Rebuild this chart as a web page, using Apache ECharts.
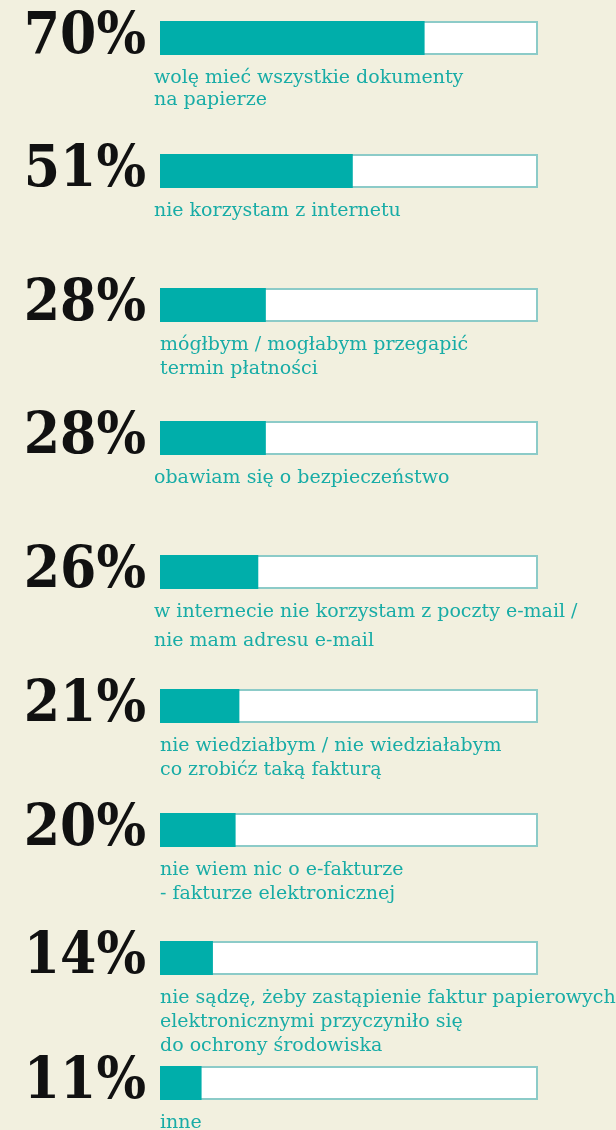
<!DOCTYPE html>
<html>
<head>
<meta charset="utf-8">
<script src="https://cdn.jsdelivr.net/npm/echarts@6/dist/echarts.min.js"></script>
<style>
html,body{margin:0;padding:0;background:#f2f0df;}
#chart{width:616px;height:1130px;}
</style>
</head>
<body>
<div id="chart"></div>
<script>
// ---- data ----
const values = [70, 51, 28, 28, 26, 21, 20, 14, 11];
const descriptions = [
  "wolę mieć wszystkie dokumenty\nna papierze",
  "nie korzystam z internetu",
  "mógłbym / mogłabym przegapić\ntermin płatności",
  "obawiam się o bezpieczeństwo",
  "w internecie nie korzystam z poczty e-mail /\nnie mam adresu e-mail",
  "nie wiedziałbym / nie wiedziałabym\nco zrobićz taką fakturą",
  "nie wiem nic o e-fakturze\n- fakturze elektronicznej",
  "nie sądzę, żeby zastąpienie faktur papierowych\nelektronicznymi przyczyniło się\ndo ochrony środowiska",
  "inne"
];

// ---- layout (not data) ----
const barTops = [21, 154, 288, 421, 555, 689, 813, 941, 1066];
const barH = 34;
const descLeft = [154, 154, 160, 154, 154, 160, 160, 160, 160];
const descLineH = [22, 24, 24, 24, 29, 24, 24, 24, 24];

const TEAL = '#00aeaa';
const BORDER = '#8ccbc8';
const DESC = '#18aca6';
const FONT = '"DejaVu Serif"';
const PCT_FONT = '"DejaVu Serif Condensed"';

const grids = [], xAxes = [], yAxes = [], series = [], titles = [];
values.forEach((v, i) => {
  grids.push({left: 160, width: 378, top: barTops[i], height: barH});
  xAxes.push({type: 'value', gridIndex: i, min: 0, max: 100, show: false});
  yAxes.push({
    type: 'category', gridIndex: i, data: [String(v)],
    axisLine: {show: false}, axisTick: {show: false},
    axisLabel: {
      margin: 14,
      formatter: (val) => val + '%',
      fontFamily: PCT_FONT, fontWeight: 'bold', fontSize: 58,
      color: '#111', padding: [4, 0, 0, 0]
    }
  });
  series.push({
    type: 'bar', xAxisIndex: i, yAxisIndex: i, data: [100],
    barWidth: '100%', silent: true,
    itemStyle: {color: '#ffffff', borderColor: BORDER, borderWidth: 2}
  });
  series.push({
    type: 'bar', xAxisIndex: i, yAxisIndex: i, data: [v],
    barWidth: '100%', barGap: '-100%', silent: true,
    itemStyle: {color: TEAL}
  });
  titles.push({
    text: descriptions[i],
    left: descLeft[i],
    top: barTops[i] + barH + 23 - descLineH[i] / 2,
    padding: 0,
    textStyle: {
      fontFamily: FONT, fontWeight: 'normal', fontSize: 19,
      color: DESC, lineHeight: descLineH[i]
    }
  });
});

const chart = echarts.init(document.getElementById('chart'), null, {renderer: 'canvas'});
chart.setOption({
  backgroundColor: '#f2f0df',
  animation: false,
  title: titles,
  grid: grids,
  xAxis: xAxes,
  yAxis: yAxes,
  series: series
});
</script>
</body>
</html>
